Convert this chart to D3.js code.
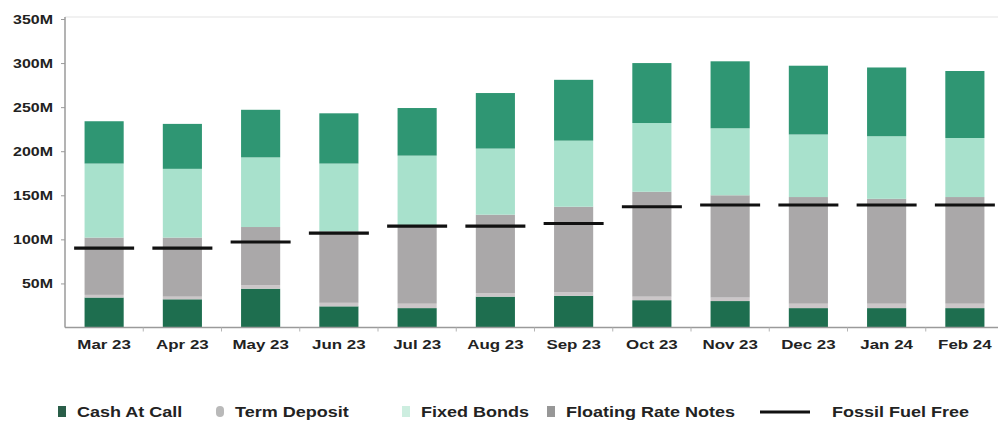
<!DOCTYPE html>
<html>
<head>
<meta charset="utf-8">
<script src="https://cdn.jsdelivr.net/npm/d3@7/dist/d3.min.js"></script>
<style>
  html, body { margin: 0; padding: 0; background: #ffffff; }
  svg { display: block; font-family: "Liberation Sans", Arial, sans-serif; }
</style>
</head>
<body>
<svg id="chart" width="998" height="428"></svg>
<script>
// Portfolio composition by month (millions)
const months = ["Mar 23", "Apr 23", "May 23", "Jun 23", "Jul 23", "Aug 23",
                "Sep 23", "Oct 23", "Nov 23", "Dec 23", "Jan 24", "Feb 24"];
const cashAtCall        = [34, 32, 44, 24, 22, 35, 36, 31, 30, 22, 22, 22];
const termDeposit       = [3, 3, 4, 4, 5, 4, 4, 4, 4, 5, 5, 5];
const floatingRateNotes = [65, 67, 66, 81, 87, 89, 97, 119, 116, 121, 119, 121];
const fixedBonds        = [84, 78, 79, 77, 81, 75, 75, 78, 76, 71, 71, 67];
const greenBonds        = [48, 51, 54, 57, 54, 63, 69, 68, 76, 78, 78, 76];
const fossilFuelFree    = [90, 90, 97, 107, 115, 115, 118, 137, 139, 139, 139, 139];
const yTicks = [50, 100, 150, 200, 250, 300, 350];

// stacking order, bottom to top
const seriesKeys   = ["cash", "term", "frn", "fixed", "green"];
const seriesColors = { cash: "#1e6e4f", term: "#cbc6c8", frn: "#aaa8a9", fixed: "#a8e1cc", green: "#2f9673" };

const legendItems = [
  { label: "Cash At Call",        type: "rect",   color: "#2a5e49" },
  { label: "Term Deposit",        type: "round",  color: "#b9b9b9" },
  { label: "Fixed Bonds",         type: "rect",   color: "#cdeee0" },
  { label: "Floating Rate Notes", type: "rect",   color: "#979797" },
  { label: "Fossil Fuel Free",    type: "line",   color: "#111111" }
];

const rows = months.map((m, i) => ({
  month: m,
  cash: cashAtCall[i], term: termDeposit[i], frn: floatingRateNotes[i],
  fixed: fixedBonds[i], green: greenBonds[i], fff: fossilFuelFree[i]
}));

const svg = d3.select("#chart");
const plotLeft = 65, plotRight = 1004, plotTop = 19, plotBottom = 327.5;

const x = d3.scaleBand().domain(months).range([plotLeft, plotRight])
  .paddingInner(0.5).paddingOuter(0.25);
const y = d3.scaleLinear().domain([0, 350]).range([plotBottom, plotTop]);

// widen text horizontally to the label proportions of this chart
function stretch(sel, k) {
  sel.each(function () {
    const w = this.getComputedTextLength();
    d3.select(this).attr("textLength", w * k).attr("lengthAdjust", "spacingAndGlyphs");
  });
}

// faint top frame line
svg.append("line")
  .attr("x1", plotLeft).attr("x2", 998).attr("y1", y(350) - 2).attr("y2", y(350) - 2)
  .attr("stroke", "#ececec").attr("stroke-width", 1.5);

// stacked bars
const stack = d3.stack().keys(seriesKeys)(rows);
svg.append("g").selectAll("g").data(stack).join("g")
  .attr("fill", d => seriesColors[d.key])
  .selectAll("rect").data(d => d).join("rect")
  .attr("x", d => x(d.data.month))
  .attr("width", x.bandwidth())
  .attr("y", d => y(d[1]))
  .attr("height", d => y(d[0]) - y(d[1]));

// y axis
const yAxis = svg.append("g").attr("transform", `translate(${plotLeft},0)`)
  .call(d3.axisLeft(y).tickValues(yTicks).tickSize(4).tickFormat(d => d + "M"));
yAxis.select(".domain").attr("stroke", "#9a9a9a").attr("stroke-width", 1.5)
  .attr("d", `M-0,${y(350) - 2}V${plotBottom}`);
yAxis.selectAll(".tick line").attr("stroke", "#9a9a9a");
yAxis.selectAll(".tick text")
  .attr("x", -12).attr("dy", "0.35em")
  .attr("font-size", 12).attr("font-weight", "bold").attr("fill", "#222")
  .attr("font-family", "Liberation Sans, Arial, sans-serif")
  .call(stretch, 1.33);

// x axis
const xAxis = svg.append("g").attr("transform", `translate(0,${plotBottom})`)
  .call(d3.axisBottom(x).tickSize(0).tickPadding(12));
xAxis.select(".domain").attr("stroke", "#9a9a9a").attr("stroke-width", 1.5)
  .attr("d", `M${plotLeft},0H998`);
xAxis.selectAll(".tick text")
  .attr("font-size", 13).attr("font-weight", "bold").attr("fill", "#222")
  .attr("font-family", "Liberation Sans, Arial, sans-serif")
  .call(stretch, 1.3);
// category separators below the axis
svg.append("g").selectAll("line").data(months.slice(1)).join("line")
  .attr("x1", d => x(d) - x.step() * x.paddingInner() / 2)
  .attr("x2", d => x(d) - x.step() * x.paddingInner() / 2)
  .attr("y1", plotBottom).attr("y2", plotBottom + 4)
  .attr("stroke", "#b5b5b5");

// Fossil Fuel Free markers
svg.append("g").selectAll("line").data(rows).join("line")
  .attr("x1", d => x(d.month) + x.bandwidth() / 2 - 30)
  .attr("x2", d => x(d.month) + x.bandwidth() / 2 + 30)
  .attr("y1", d => y(d.fff)).attr("y2", d => y(d.fff))
  .attr("stroke", "#111").attr("stroke-width", 3.2);

// legend
const legendX = [58, 216, 402, 547, 760];
const legendY = 412;
const lg = svg.append("g").selectAll("g").data(legendItems).join("g")
  .attr("transform", (d, i) => `translate(${legendX[i]},${legendY})`);
lg.filter(d => d.type === "rect").append("rect")
  .attr("x", 0).attr("y", -6).attr("width", 8).attr("height", 11)
  .attr("fill", d => d.color);
lg.filter(d => d.type === "round").append("rect")
  .attr("x", 0).attr("y", -6).attr("width", 8).attr("height", 11).attr("rx", 4)
  .attr("fill", d => d.color);
lg.filter(d => d.type === "line").append("line")
  .attr("x1", 0).attr("x2", 50).attr("y1", 0).attr("y2", 0)
  .attr("stroke", d => d.color).attr("stroke-width", 3);
lg.append("text")
  .attr("x", d => d.type === "line" ? 72 : 19)
  .attr("dy", "0.36em")
  .attr("font-size", 15).attr("font-weight", "bold").attr("fill", "#222")
  .text(d => d.label)
  .call(stretch, 1.2);
</script>
</body>
</html>
